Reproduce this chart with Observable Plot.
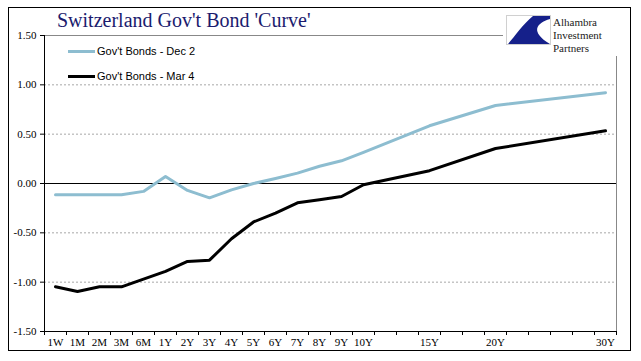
<!DOCTYPE html>
<html><head><meta charset="utf-8">
<script src="https://cdn.jsdelivr.net/npm/d3@7"></script>
<script src="https://cdn.jsdelivr.net/npm/@observablehq/plot@0.6"></script>
<style>
body{margin:0;background:#fff;}
#wrap{position:relative;width:641px;height:361px;overflow:hidden;background:#fff;}
#wrap svg.plot{position:absolute;left:0;top:0;}
#border{position:absolute;left:8px;top:7px;width:623px;height:344px;border:1px solid #000;box-sizing:border-box;}
#title{position:absolute;left:57px;top:9px;font-family:"Liberation Serif",serif;font-size:20px;color:#1b1b6e;white-space:nowrap;}
.leg{position:absolute;left:68px;font-family:"Liberation Sans",Arial,sans-serif;font-size:11px;color:#000;white-space:nowrap;display:flex;align-items:center;}
.leg span.sw{display:inline-block;width:27px;height:3px;margin-right:2px;}
#logo{position:absolute;left:503px;top:10px;width:125px;height:46px;background:#fff;}
</style></head><body>
<div id="wrap"></div>
<script>
// Tenors on the category axis and their category slot on the chart (blank categories between 10Y, 15Y, 20Y, 30Y)
const tenors = ["1W","1M","2M","3M","6M","1Y","2Y","3Y","4Y","5Y","6Y","7Y","8Y","9Y","10Y","15Y","20Y","30Y"];
const slots  = [0,1,2,3,4,5,6,7,8,9,10,11,12,13,14,17,20,25];
const slotCount = 26;
const dec2 = [-0.115,-0.115,-0.115,-0.115,-0.08,0.07,-0.07,-0.145,-0.065,0.0,0.05,0.105,0.175,0.23,0.315,0.585,0.79,0.92];
const mar4 = [-1.047,-1.094,-1.047,-1.047,-0.97,-0.89,-0.79,-0.777,-0.56,-0.39,-0.30,-0.196,-0.165,-0.132,-0.013,0.13,0.355,0.534];
const seriesNames = ["Gov't Bonds - Dec 2","Gov't Bonds - Mar 4"];
const seriesColors = ["#8dbdd0","#000000"];
const yTicks = [-1.5,-1,-0.5,0,0.5,1,1.5];
const gridValues = [-1,-0.5,0.5,1];

const data = [];
tenors.forEach((t,i)=>{
  data.push({tenor:t, slot:slots[i], value:dec2[i], series:seriesNames[0]});
  data.push({tenor:t, slot:slots[i], value:mar4[i], series:seriesNames[1]});
});
const xMin = -0.5, xMax = slotCount - 0.5;
const boundaries = d3.range(xMin, xMax + 0.01, 1);

const plot = Plot.plot({
  width:641, height:361,
  marginLeft:44, marginRight:25, marginTop:35, marginBottom:30,
  x:{type:"linear", domain:[xMin,xMax], label:null},
  y:{domain:[-1.5,1.5], label:null},
  color:{domain:seriesNames, range:seriesColors},
  style:{fontFamily:"Liberation Serif, serif", fontSize:"11px", background:"transparent", color:"#000"},
  marks:[
    Plot.ruleY(gridValues, {stroke:"#a8a8a8", strokeDasharray:"2,2", strokeWidth:1}),
    Plot.ruleY([1.5], {stroke:"#888", strokeWidth:1}),
    Plot.ruleX([xMax], {stroke:"#888", strokeWidth:1}),
    Plot.ruleY([0], {stroke:"#000", strokeWidth:1}),
    Plot.ruleX([xMin], {stroke:"#000", strokeWidth:1}),
    Plot.ruleY([-1.5], {stroke:"#000", strokeWidth:1}),
    Plot.axisY({ticks:yTicks, tickFormat:d=>d.toFixed(2), tickSize:4, tickPadding:4, fill:"#000", stroke:"#000", label:null}),
    Plot.axisX({ticks:boundaries, tickFormat:()=>"", tickSize:4, stroke:"#000", label:null}),
    Plot.axisX({ticks:slots, tickFormat:d=>tenors[slots.indexOf(d)], tickSize:0, tickPadding:7, fill:"#000", label:null}),
    Plot.line(data, {x:"slot", y:"value", stroke:"series", strokeWidth:3, z:"series"})
  ]
});
plot.classList.add("plot");
const wrap = document.getElementById("wrap");
wrap.appendChild(plot);

const border = document.createElement("div"); border.id="border"; wrap.appendChild(border);
const title = document.createElement("div"); title.id="title"; title.textContent="Switzerland Gov't Bond 'Curve'"; wrap.appendChild(title);
seriesNames.forEach((n,i)=>{
  const d = document.createElement("div"); d.className="leg"; d.style.top = (i===0 ? 45 : 70) + "px";
  d.innerHTML = `<span class="sw" style="background:${seriesColors[i]}"></span>`;
  d.appendChild(document.createTextNode(n));
  wrap.appendChild(d);
});
const logo = document.createElement("div"); logo.id="logo";
logo.innerHTML = `<svg width="125" height="46" xmlns="http://www.w3.org/2000/svg">
  <rect x="3.5" y="5.5" width="44" height="29" fill="#fff" stroke="#d0d0d0"/>
  <path d="M30 6 L47 6 L47 9 C33 13 27 22 47 34 L5 34 C12 26 20 14 30 6 Z" fill="#15208a"/>
  <text x="50" y="16" font-family="Liberation Serif, serif" font-size="11" fill="#222">Alhambra</text>
  <text x="50" y="29" font-family="Liberation Serif, serif" font-size="11" fill="#222">Investment</text>
  <text x="50" y="42" font-family="Liberation Serif, serif" font-size="11" fill="#222">Partners</text>
</svg>`;
wrap.appendChild(logo);
</script>
</body></html>
